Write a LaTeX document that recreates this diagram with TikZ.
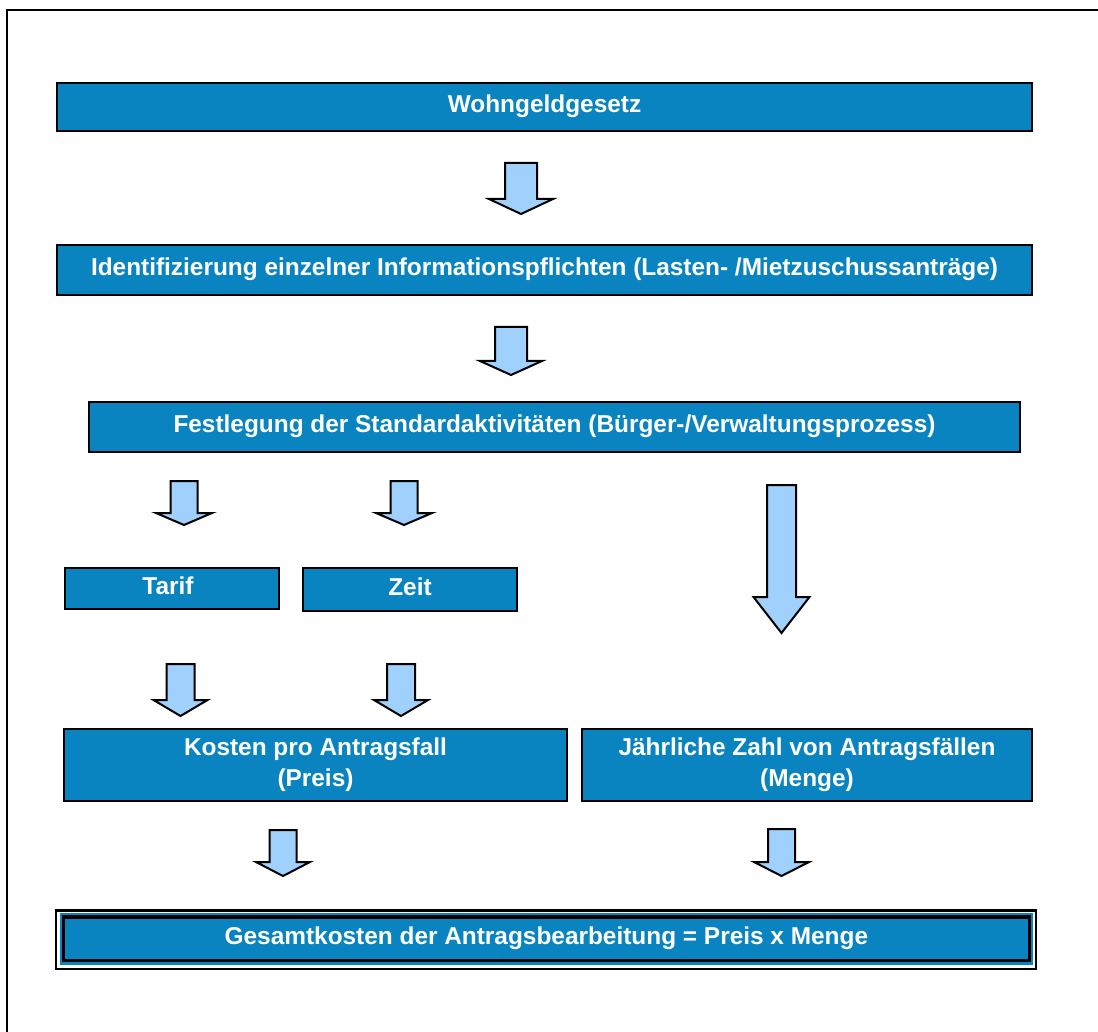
\documentclass[tikz,border=0pt]{standalone}
\usepackage{fontspec}
\setmainfont{Liberation Sans}
\definecolor{boxblue}{RGB}{10,132,192}
\definecolor{arrowblue}{RGB}{160,208,252}

% block arrow pointing down: centre x, top, head base, tip, shaft half width, head half width
\newcommand\flowarrow[6]{%
  \draw[flowarrow] ({#1-#5},#2) -- ({#1+#5},#2) -- ({#1+#5},#3) -- ({#1+#6},#3)
    -- (#1,#4) -- ({#1-#6},#3) -- ({#1-#5},#3) -- cycle;}

\begin{document}
\begin{tikzpicture}[x=0.5pt,y=-0.5pt,
  box/.style={draw=black, line width=1pt, fill=boxblue, text=white,
    font=\bfseries\fontsize{12.2}{15.5}\selectfont, inner sep=0pt, align=center},
  oneline/.style={text height=8.7pt, text depth=3pt},
  flowarrow/.style={draw=black, line width=1pt, fill=arrowblue, line join=miter}]

\useasboundingbox (0,0) rectangle (1098,1032);

% page frame (open to the right and bottom)
\draw[line width=1.1pt] (7,1032) -- (7,10) -- (1098,10);

% process boxes
\node[box, oneline, minimum width=487.5pt, minimum height=24pt] (gesetz) at (544.5,107) {Wohngeldgesetz};
\node[box, oneline, minimum width=487.5pt, minimum height=25pt] (pflichten) at (544.5,270)
  {Identifizierung einzelner Informationspflichten (Lasten- /Mietzuschussanträge)};
\node[box, oneline, minimum width=465.5pt, minimum height=25pt] (standard) at (554.5,427)
  {Festlegung der Standardaktivitäten (Bürger-/Verwaltungsprozess)};
\node[box, oneline, minimum width=107pt, minimum height=20.5pt] (tarif) at (172,588.5)
  {\hspace*{-4pt}Tarif};
\node[box, oneline, minimum width=107pt, minimum height=21.5pt] (zeit) at (410,589.5) {Zeit};
\node[box, minimum width=251.5pt, minimum height=36pt] (preis) at (315.5,765)
  {Kosten pro Antragsfall\\(Preis)};
\node[box, minimum width=225pt, minimum height=36pt] (menge) at (807,765)
  {Jährliche Zahl von Antragsfällen\\(Menge)};

% result box with framed border
\draw[line width=1.1pt, fill=white] (56,910.5) rectangle (1036,969);
\fill[boxblue] (59.5,913.3) rectangle (1033.4,964.8);
\node[box, oneline, line width=1.6pt, minimum width=482.9pt, minimum height=21.65pt] (gesamt)
  at (546.4,938.65) {Gesamtkosten der Antragsbearbeitung = Preis x Menge};

% flow arrows
\flowarrow{521}{163}{199}{214}{16}{32}
\flowarrow{511}{327}{361}{375}{16}{31}
\flowarrow{184}{481}{513}{525}{13.5}{28}
\flowarrow{404}{481}{513}{525}{13.5}{28}
\flowarrow{781.5}{485}{597}{633}{14.5}{28}
\flowarrow{180.5}{664}{700}{716}{14}{27}
\flowarrow{401}{664}{700}{716}{14}{27}
\flowarrow{283}{830}{862}{876}{13.5}{27}
\flowarrow{781.5}{829}{862}{876}{13.5}{27.5}
\end{tikzpicture}
\end{document}
